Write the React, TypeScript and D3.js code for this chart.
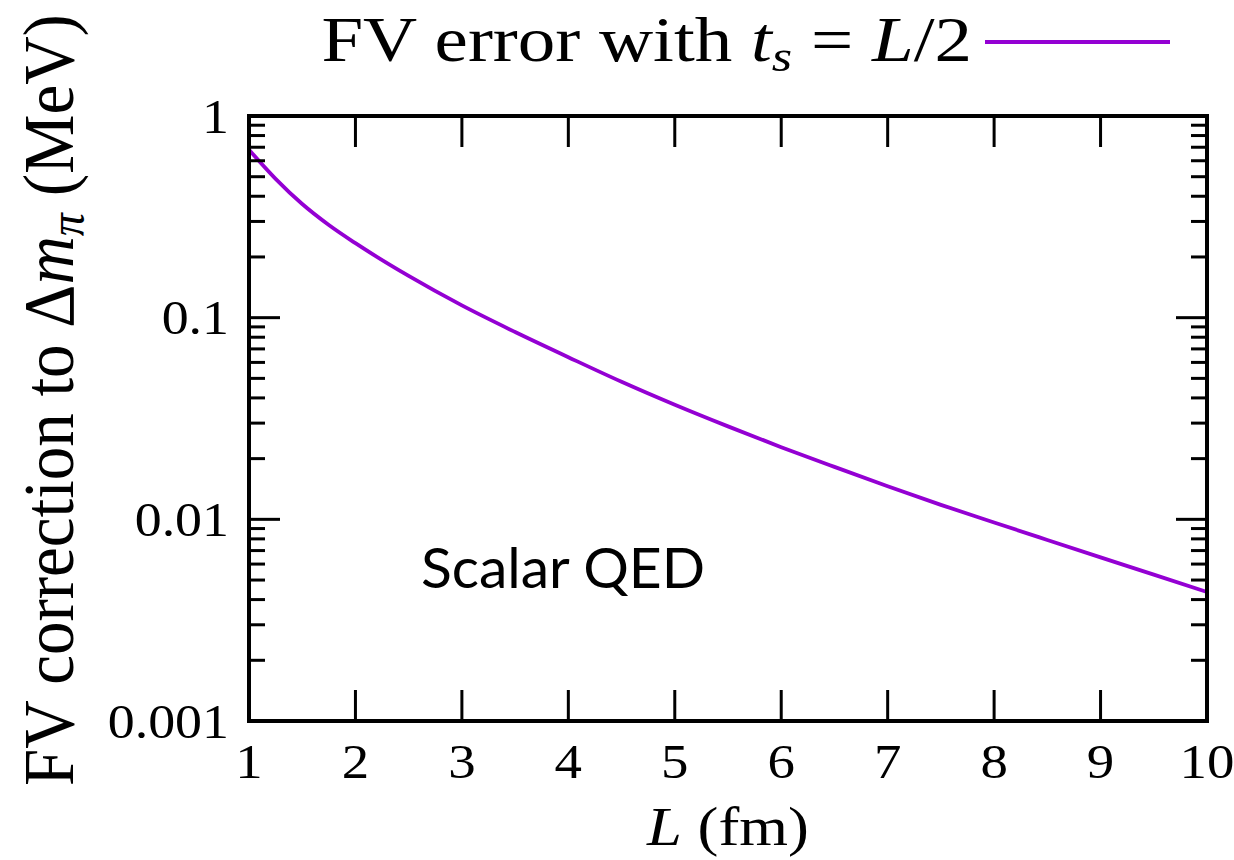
import React from "react";
import * as d3 from "d3";

// Box size L (fm) and the finite-volume error on the pion mass splitting (MeV)
const L_VALUES = [1, 1.25, 1.5, 1.75, 2, 2.5, 3, 3.5, 4, 4.5, 5, 5.5, 6, 6.5, 7, 7.5, 8, 8.5, 9, 9.5, 10];
const FV_ERROR = [
  0.68, 0.488, 0.366, 0.288, 0.234, 0.161, 0.115, 0.0849, 0.0637, 0.0481, 0.037,
  0.0289, 0.0228, 0.0182, 0.0146, 0.0118, 0.00964, 0.0079, 0.00648, 0.00532, 0.00436,
];
const X_TICKS = [1, 2, 3, 4, 5, 6, 7, 8, 9, 10];
const Y_TICKS = [1, 0.1, 0.01, 0.001];
const Y_TICK_LABELS = ["1", "0.1", "0.01", "0.001"];

const W = 1234;
const H = 860;
const M = { left: 249, top: 116, right: 1207, bottom: 721 };
const LINE_COLOR = "#9400d3";
const SERIF = "'Liberation Serif', 'DejaVu Serif', serif";
// wide-set serif look: stretch glyphs horizontally
const SX = 1.16;

export default function App() {
  const x = d3.scaleLinear().domain([1, 10]).range([M.left, M.right]);
  const y = d3.scaleLog().domain([0.001, 1]).range([M.bottom, M.top]);

  const pts: [number, number][] = L_VALUES.map((l, i) => [l, FV_ERROR[i]]);
  const line = d3
    .line<[number, number]>()
    .x((d) => x(d[0]))
    .y((d) => y(d[1]))
    .curve(d3.curveMonotoneX);

  const minorY: number[] = [];
  for (const dec of [0.001, 0.01, 0.1]) {
    for (let k = 2; k <= 9; k++) minorY.push(dec * k);
  }
  const majorLen = 31;
  const minorLen = 16;

  return (
    <svg
      width={W}
      height={H}
      style={{ position: "absolute", left: 0, top: 0, background: "#fff" }}
    >
      {/* curve */}
      <path d={line(pts) || ""} fill="none" stroke={LINE_COLOR} strokeWidth={3.8} />

      {/* x major ticks, bottom and top */}
      {X_TICKS.slice(1, -1).map((t) => (
        <g key={"xt" + t} stroke="#000" strokeWidth={3}>
          <line x1={x(t)} x2={x(t)} y1={M.bottom} y2={M.bottom - majorLen} />
          <line x1={x(t)} x2={x(t)} y1={M.top} y2={M.top + majorLen} />
        </g>
      ))}
      {/* y major ticks */}
      {Y_TICKS.slice(1, -1).map((t) => (
        <g key={"yt" + t} stroke="#000" strokeWidth={3}>
          <line x1={M.left} x2={M.left + majorLen} y1={y(t)} y2={y(t)} />
          <line x1={M.right} x2={M.right - majorLen} y1={y(t)} y2={y(t)} />
        </g>
      ))}
      {/* y minor ticks */}
      {minorY.map((t, i) => (
        <g key={"ym" + i} stroke="#000" strokeWidth={3}>
          <line x1={M.left} x2={M.left + minorLen} y1={y(t)} y2={y(t)} />
          <line x1={M.right} x2={M.right - minorLen} y1={y(t)} y2={y(t)} />
        </g>
      ))}

      {/* frame */}
      <rect
        x={M.left}
        y={M.top}
        width={M.right - M.left}
        height={M.bottom - M.top}
        fill="none"
        stroke="#000"
        strokeWidth={4}
      />

      {/* tick labels */}
      <g fontFamily={SERIF} fontSize={49} fill="#000">
        {X_TICKS.map((t) => (
          <g key={"xl" + t} transform={`translate(${x(t)},778) scale(1.12,1)`}>
            <text textAnchor="middle">{t}</text>
          </g>
        ))}
        {Y_TICKS.map((t, i) => (
          <g key={"yl" + t} transform={`translate(229,${y(t) + 16.5}) scale(1.1,1)`}>
            <text textAnchor="end">{Y_TICK_LABELS[i]}</text>
          </g>
        ))}
      </g>

      {/* axis titles */}
      <g transform={`translate(728,845) scale(${SX},1)`}>
        <text textAnchor="middle" fontFamily={SERIF} fontSize={54} fill="#000">
          <tspan fontStyle="italic">L</tspan>
          <tspan> (fm)</tspan>
        </text>
      </g>
      <g transform="translate(73,400) rotate(-90) scale(1,1.08)">
        <text textAnchor="middle" fontFamily={SERIF} fontSize={67} fill="#000">
          <tspan>FV correction to Δ</tspan>
          <tspan fontStyle="italic">m</tspan>
          <tspan fontStyle="italic" fontSize={46} dy={10}>π</tspan>
          <tspan dy={-10}> (MeV)</tspan>
        </text>
      </g>

      {/* legend */}
      <g transform="translate(972,61) scale(1.19,1)">
        <text textAnchor="end" fontFamily={SERIF} fontSize={63} fill="#000">
          <tspan>FV error with </tspan>
          <tspan fontStyle="italic">t</tspan>
          <tspan fontStyle="italic" fontSize={44} dy={10}>s</tspan>
          <tspan dy={-10}> = </tspan>
          <tspan fontStyle="italic">L</tspan>
          <tspan>/2</tspan>
        </text>
      </g>
      <line x1={985} x2={1170} y1={42} y2={42} stroke={LINE_COLOR} strokeWidth={3.8} />

      {/* annotation */}
      <text
        x={421}
        y={588}
        fontFamily="Lato, 'Open Sans', sans-serif"
        fontSize={57}
        fill="#000"
      >
        Scalar QED
      </text>
    </svg>
  );
}
